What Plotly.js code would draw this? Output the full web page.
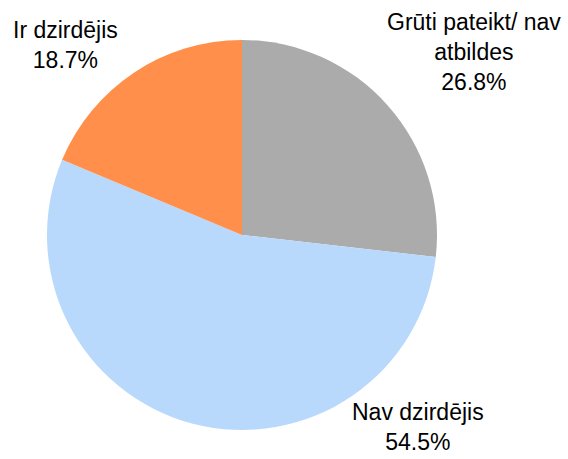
<!DOCTYPE html>
<html>
<head>
<meta charset="utf-8">
<script src="https://cdn.plot.ly/plotly-3.0.1.min.js"></script>
<style>html,body{margin:0;padding:0;background:#fff;}#chart{width:568px;height:459px;}</style>
</head>
<body>
<div id="chart"></div>
<script>
const categories = ["Grūti pateikt/ nav atbildes", "Nav dzirdējis", "Ir dzirdējis"];
const labelLines = [["Grūti pateikt/ nav", "atbildes"], ["Nav dzirdējis"], ["Ir dzirdējis"]];
const values = [26.8, 54.5, 18.7];
const colors = ["#ababab", "#b8d9fc", "#ff8f4a"];

const W = 568, H = 459;
// label anchor positions in pixels (centre of each text block)
const labelPos = [[474, 52], [418, 427], [65, 45]];

const annotations = categories.map((c, i) => ({
  xref: "paper", yref: "paper",
  x: labelPos[i][0] / W, y: 1 - labelPos[i][1] / H,
  xanchor: "center", yanchor: "middle",
  showarrow: false, align: "center",
  text: labelLines[i].join("<br>") + "<br>" + values[i].toFixed(1) + "%",
  font: {family: "Liberation Sans, Arial, sans-serif", size: 23, color: "#000"}
}));

const trace = {
  type: "pie",
  labels: categories,
  values: values,
  sort: false,
  direction: "clockwise",
  rotation: 0,
  marker: {colors: colors, line: {width: 0}},
  textinfo: "none",
  hoverinfo: "label+percent",
  domain: {x: [47 / W, 437 / W], y: [29 / H, 419 / H]},
  showlegend: false
};

Plotly.newPlot("chart", [trace], {
  width: W, height: H,
  margin: {l: 0, r: 0, t: 0, b: 0},
  paper_bgcolor: "#fff",
  showlegend: false,
  annotations: annotations
}, {displayModeBar: false, staticPlot: true});
</script>
</body>
</html>
